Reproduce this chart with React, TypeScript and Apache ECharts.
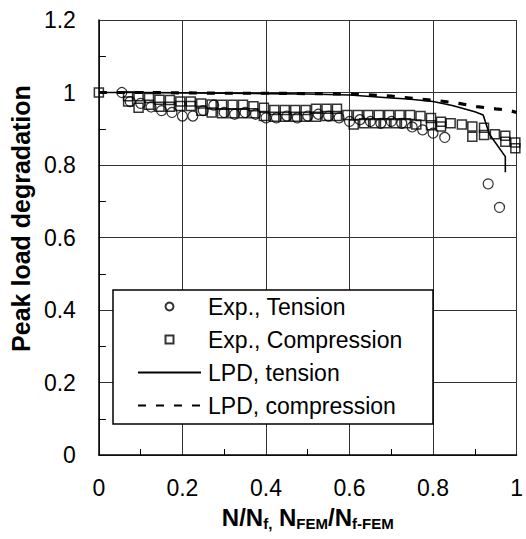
import React, { useEffect, useRef } from 'react';
import * as echarts from 'echarts';

const FONT = '"Liberation Sans", Arial, Helvetica, sans-serif';

const xRange = [0, 1];
const yRange = [0, 1.2];
const seriesNames = ['Exp., Tension', 'Exp., Compression', 'LPD, tension', 'LPD, compression'];

const expTension: [number, number][] = [
  [0.055, 1.0], [0.075, 0.975], [0.1, 0.97], [0.125, 0.96], [0.15, 0.95], [0.175, 0.945],
  [0.2, 0.935], [0.225, 0.935], [0.25, 0.95], [0.275, 0.965], [0.3, 0.945], [0.325, 0.94],
  [0.35, 0.945], [0.375, 0.94], [0.4, 0.93], [0.425, 0.93], [0.45, 0.935], [0.475, 0.93],
  [0.5, 0.935], [0.525, 0.94], [0.55, 0.935], [0.575, 0.93], [0.6, 0.92], [0.625, 0.925],
  [0.65, 0.92], [0.675, 0.915], [0.7, 0.92], [0.725, 0.915], [0.75, 0.905], [0.775, 0.897],
  [0.8, 0.888], [0.828, 0.876], [0.932, 0.748], [0.959, 0.683],
];

const expCompression: [number, number][] = [
  [0, 1.0],
  [0.07, 0.99], [0.07, 0.975], [0.095, 0.99], [0.095, 0.958], [0.12, 0.985], [0.12, 0.966],
  [0.145, 0.98], [0.145, 0.961], [0.17, 0.979], [0.17, 0.961], [0.195, 0.975], [0.195, 0.963],
  [0.22, 0.975], [0.22, 0.963], [0.245, 0.97], [0.245, 0.95], [0.27, 0.967], [0.27, 0.945],
  [0.295, 0.966], [0.295, 0.943], [0.32, 0.966], [0.32, 0.943], [0.345, 0.966], [0.345, 0.943],
  [0.37, 0.962], [0.37, 0.943], [0.395, 0.958], [0.395, 0.935], [0.42, 0.952], [0.42, 0.933],
  [0.445, 0.952], [0.445, 0.933], [0.47, 0.952], [0.47, 0.933], [0.495, 0.952], [0.495, 0.933],
  [0.52, 0.955], [0.52, 0.933], [0.545, 0.955], [0.545, 0.935], [0.57, 0.955], [0.57, 0.935],
  [0.595, 0.938], [0.61, 0.912], [0.62, 0.938], [0.635, 0.915], [0.645, 0.938], [0.66, 0.915],
  [0.67, 0.938], [0.685, 0.915], [0.695, 0.938], [0.71, 0.915], [0.72, 0.938], [0.735, 0.915],
  [0.745, 0.938], [0.76, 0.912], [0.77, 0.935], [0.795, 0.93], [0.795, 0.91],
  [0.819, 0.919], [0.819, 0.906], [0.842, 0.915], [0.869, 0.912], [0.894, 0.906], [0.894, 0.878],
  [0.922, 0.903], [0.922, 0.883], [0.948, 0.885], [0.973, 0.881], [0.973, 0.864],
  [0.997, 0.862], [0.997, 0.846],
];

const lpdTension: [number, number][] = [
  [0, 1.0], [0.1, 1.0], [0.2, 0.999], [0.3, 0.998], [0.4, 0.997], [0.5, 0.996], [0.6, 0.993],
  [0.7, 0.985], [0.74, 0.982], [0.8, 0.975], [0.846, 0.964], [0.9, 0.947], [0.92, 0.938],
  [0.925, 0.92], [0.935, 0.885], [0.973, 0.823], [0.973, 0.78],
];

const lpdCompression: [number, number][] = [
  [0, 1.0], [0.1, 1.0], [0.2, 0.999], [0.3, 0.998], [0.4, 0.998], [0.5, 0.997], [0.6, 0.996],
  [0.7, 0.99], [0.767, 0.982], [0.815, 0.977], [0.862, 0.97], [0.905, 0.961], [0.95, 0.955],
  [0.981, 0.951], [1.0, 0.945],
];

export default function App() {
  const ref = useRef<HTMLDivElement>(null);

  useEffect(() => {
    if (!ref.current) return;
    const chart = echarts.init(ref.current, null, { renderer: 'svg' });
    const axisCommon = {
      type: 'value' as const,
      axisLine: { show: true, lineStyle: { color: '#000', width: 1.5 } },
      axisTick: { show: false, inside: true },
      minorTick: { show: true, splitNumber: 2, length: 7, lineStyle: { color: '#000', width: 1 } },
      splitLine: { show: true, lineStyle: { color: '#333', width: 1 } },
      axisLabel: { color: '#000', fontSize: 23, fontFamily: FONT },
    };
    const hiddenDot = { color: 'transparent', borderColor: 'transparent', borderWidth: 0, opacity: 0 };
    chart.setOption({
      animation: false,
      backgroundColor: '#fff',
      textStyle: { fontFamily: FONT },
      grid: { left: 97, right: 8, top: 20, bottom: 84, containLabel: false },
      xAxis: {
        ...axisCommon,
        min: xRange[0],
        max: xRange[1],
        interval: 0.2,
        axisLabel: { ...axisCommon.axisLabel, margin: 21 },
        minorTick: { ...axisCommon.minorTick, length: 6 },
        name: '{m|N/N}{s|f,}{m| N}{s|FEM}{m|/N}{s|f-FEM}',
        nameLocation: 'middle',
        nameGap: 44,
        nameTextStyle: {
          rich: {
            m: { fontSize: 24, fontWeight: 'bold', color: '#000', fontFamily: FONT, lineHeight: 30 },
            s: { fontSize: 15, fontWeight: 'bold', color: '#000', fontFamily: FONT, lineHeight: 30, padding: [12, 0, 0, 0] },
          },
        },
      },
      yAxis: {
        ...axisCommon,
        min: yRange[0],
        max: yRange[1],
        interval: 0.2,
        axisLabel: { ...axisCommon.axisLabel, margin: 23 },
        name: 'Peak load degradation',
        nameLocation: 'middle',
        nameGap: 62,
        nameTextStyle: {
          fontSize: 25,
          fontWeight: 'bold',
          color: '#000',
          fontFamily: FONT,
          padding: [0, 0, 0, 38],
        },
      },
      legend: {
        orient: 'vertical',
        left: 137,
        top: 294,
        padding: 0,
        itemGap: 8,
        itemWidth: 63,
        itemHeight: 8,
        z: 10,
        symbolKeepAspect: true,
        textStyle: { fontSize: 23, color: '#000', fontFamily: FONT, lineHeight: 25, padding: [0, 0, 0, 2] },
        data: [
          { name: seriesNames[0], icon: 'circle' },
          { name: seriesNames[1], icon: 'path://M0,0L10,0L10,10L0,10Z' },
          { name: seriesNames[2], itemStyle: hiddenDot },
          { name: seriesNames[3], itemStyle: hiddenDot },
        ],
      },
      graphic: {
        elements: [
          {
            type: 'rect',
            z: 5,
            shape: { x: 113, y: 290, width: 320, height: 134 },
            style: { fill: '#fff', stroke: '#000', lineWidth: 1.5 },
          },
        ],
      },
      series: [
        {
          name: seriesNames[2],
          type: 'line',
          data: lpdTension,
          symbol: 'none',
          showSymbol: false,
          z: 2,
          lineStyle: { color: '#000', width: 1.6 },
          itemStyle: { color: '#000' },
        },
        {
          name: seriesNames[3],
          type: 'line',
          data: lpdCompression,
          symbol: 'none',
          showSymbol: false,
          z: 2,
          lineStyle: { color: '#000', width: 3.2, type: [8, 10] },
          itemStyle: { color: '#000' },
        },
        {
          name: seriesNames[0],
          type: 'scatter',
          data: expTension,
          symbol: 'circle',
          symbolSize: 10,
          z: 3,
          itemStyle: { color: 'transparent', borderColor: '#000', borderWidth: 1.2 },
        },
        {
          name: seriesNames[1],
          type: 'scatter',
          data: expCompression,
          symbol: 'rect',
          symbolSize: 9,
          z: 4,
          itemStyle: { color: 'transparent', borderColor: '#000', borderWidth: 1.5 },
        },
      ],
    });
    return () => chart.dispose();
  }, []);

  return (
    <div
      ref={ref}
      style={{ position: 'fixed', left: 0, top: 0, width: 526, height: 539, background: '#fff' }}
    />
  );
}
